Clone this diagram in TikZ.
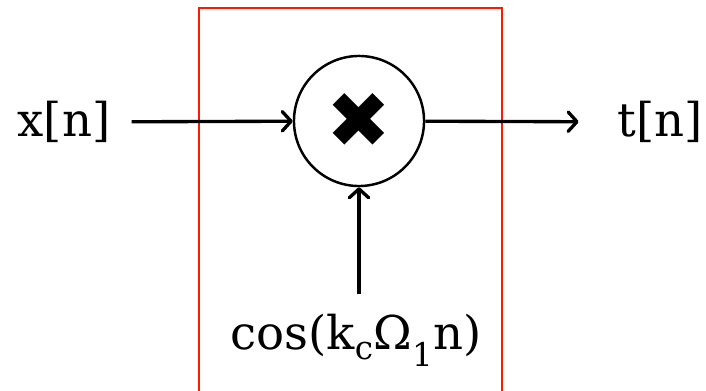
\documentclass[tikz,border=0pt]{standalone}
\usepackage{fontspec}
\setmainfont{DejaVu Serif}
\newfontfamily\symfont{DejaVu Sans}
\usetikzlibrary{arrows.meta}

\begin{document}
\begin{tikzpicture}[x=0.04cm,y=0.04cm]
  \tikzset{sigtext/.style={font=\fontsize{53}{60}\selectfont,inner sep=0pt}}
  \tikzset{mixer/.style={circle,draw=black,line width=2.8pt,minimum size=148pt,inner sep=0pt,
    font=\symfont\fontsize{88}{88}\selectfont}}
  \tikzset{sigline/.style={draw=black,line width=3.8pt,line join=round,
    -{Straight Barb[length=10pt,width=22pt,round]}}}

  \useasboundingbox (0,0) rectangle (706,390);
  \draw[red!80!orange,line width=2.6pt] (199,-10) -- (199,382) -- (502,382) -- (502,-10);

  \node[mixer] (mult) at (359,269) {✖};
  \node[sigtext] (xin) at (64,268) {x[n]};
  \node[sigtext] (tout) at (660,268) {t[n]};
  \node[sigtext] (carrier) at (356,50) {cos(k\textsubscript{c}Ω\textsubscript{1}n)};

  \draw[sigline,shorten <=22pt] (carrier.north -| mult) -- (mult);
  \draw[sigline,shorten <=24pt] (xin) -- (mult);
  \draw[sigline,shorten >=44pt] (mult) -- (tout);
\end{tikzpicture}
\end{document}
